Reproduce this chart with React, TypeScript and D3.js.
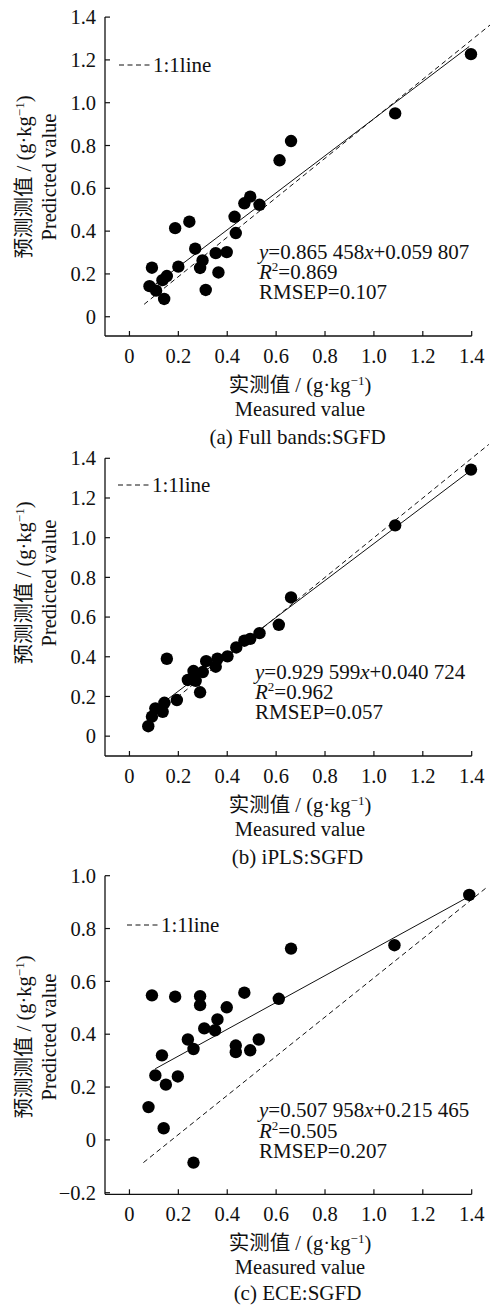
import React from 'react';
import * as d3 from 'd3';

const FONT = '"Liberation Serif", "Times New Roman", "Noto Sans CJK SC", serif';

// measured vs predicted
const fullMeasured = [0.082, 0.092, 0.109, 0.135, 0.142, 0.153, 0.187, 0.2, 0.245, 0.269, 0.289, 0.299, 0.312, 0.353, 0.364, 0.398, 0.43, 0.435, 0.47, 0.494, 0.532, 0.614, 0.661, 1.087, 1.397];
const fullPredicted = [0.143, 0.229, 0.122, 0.171, 0.083, 0.19, 0.414, 0.234, 0.444, 0.318, 0.228, 0.263, 0.125, 0.297, 0.207, 0.302, 0.467, 0.391, 0.53, 0.561, 0.523, 0.731, 0.821, 0.95, 1.227];

const iplsMeasured = [0.077, 0.092, 0.106, 0.136, 0.143, 0.153, 0.194, 0.239, 0.262, 0.271, 0.289, 0.3, 0.314, 0.353, 0.36, 0.401, 0.437, 0.47, 0.494, 0.532, 0.611, 0.661, 1.087, 1.397];
const iplsPredicted = [0.05, 0.098, 0.14, 0.123, 0.168, 0.39, 0.182, 0.283, 0.328, 0.279, 0.221, 0.323, 0.378, 0.35, 0.39, 0.402, 0.447, 0.481, 0.49, 0.519, 0.561, 0.699, 1.062, 1.343];

const eceMeasured = [0.078, 0.092, 0.106, 0.133, 0.14, 0.149, 0.187, 0.198, 0.239, 0.262, 0.262, 0.289, 0.289, 0.306, 0.35, 0.36, 0.398, 0.435, 0.435, 0.47, 0.494, 0.529, 0.611, 0.661, 1.084, 1.39];
const ecePredicted = [0.124, 0.547, 0.244, 0.32, 0.044, 0.209, 0.542, 0.24, 0.38, 0.344, -0.086, 0.544, 0.51, 0.422, 0.415, 0.456, 0.502, 0.357, 0.332, 0.557, 0.339, 0.38, 0.534, 0.724, 0.737, 0.927];

const xTicks = [0, 0.2, 0.4, 0.6, 0.8, 1.0, 1.2, 1.4];
const yTicksAB = [0, 0.2, 0.4, 0.6, 0.8, 1.0, 1.2, 1.4];
const yTicksC = [-0.2, 0, 0.2, 0.4, 0.6, 0.8, 1.0];

const slopes = [0.865458, 0.929599, 0.507958];
const intercepts = [0.059807, 0.040724, 0.215465];
const r2Values = [0.869, 0.962, 0.505];
const rmsepValues = [0.107, 0.057, 0.207];
const captions = ['(a) Full bands:SGFD', '(b) iPLS:SGFD', '(c) ECE:SGFD'];

// the "1:1" dashed lines as drawn in the figure (end points)
const refLines = [
  [[0.06, 0.058], [1.475, 1.363]],
  [[0.06, 0.06], [1.47, 1.47]],
  [[0.057, -0.086], [1.462, 0.956]],
];
const fitRanges = [[0.08, 1.39], [0.08, 1.39], [0.105, 1.39]];
const yDomains = [[-0.09, 1.4], [-0.1, 1.4], [-0.206, 1.0]];

// layout, px
const panels = [
  { top: 17.1, bottom: 336, labelY: 177, eqX: 259, eqY: 259, legY: 65, legX: 119, capY: 107.5 },
  { top: 458.3, bottom: 756, labelY: 583, eqX: 255, eqY: 679, legY: 485, legX: 118, capY: 107.5 },
  { top: 875.7, bottom: 1194.3, labelY: 1037, eqX: 259, eqY: 1117.3, legY: 925, legX: 127, capY: 105.5 },
];
const data = [
  { xs: fullMeasured, ys: fullPredicted, yTicks: yTicksAB },
  { xs: iplsMeasured, ys: iplsPredicted, yTicks: yTicksAB },
  { xs: eceMeasured, ys: ecePredicted, yTicks: yTicksC },
];

const x = d3.scaleLinear().domain([-0.1, 1.4]).range([105, 471.7]);
const LEFT = 105;
const RIGHT = 471.7;

const fmtTick = (d: number) => (d === 0 ? '0' : (d < 0 ? '\u2212' : '') + Math.abs(d).toFixed(1));
const fmtCoef = (v: number) => {
  const s = v.toFixed(6);
  return s.slice(0, s.length - 3) + ' ' + s.slice(s.length - 3);
};

const Unit = () => (
  <>
    (g·kg<tspan dy={-7} fontSize={13}>−1</tspan>
    <tspan dy={7}>)</tspan>
  </>
);

const Panel = ({ i }: { i: number }) => {
  const lay = panels[i];
  const d = data[i];
  const y = d3.scaleLinear().domain(yDomains[i]).range([lay.bottom, lay.top]);
  const line = d3.line<number[]>().x(p => x(p[0])).y(p => y(p[1]));
  const fit = fitRanges[i].map(v => [v, slopes[i] * v + intercepts[i]]);
  return (
    <g fontFamily={FONT} fill="#111">
      {/* axes */}
      <line x1={LEFT} x2={LEFT} y1={lay.top} y2={lay.bottom} stroke="#111" strokeWidth={1.3} />
      <line x1={LEFT} x2={RIGHT} y1={lay.bottom} y2={lay.bottom} stroke="#111" strokeWidth={1.3} />
      {d.yTicks.map(t => (
        <g key={'y' + t}>
          <line x1={LEFT} x2={LEFT + 5} y1={y(t)} y2={y(t)} stroke="#111" strokeWidth={1.2} />
          <text x={96} y={y(t)} dy="0.35em" textAnchor="end" fontSize={20.5}>{fmtTick(t)}</text>
        </g>
      ))}
      {xTicks.map(t => (
        <g key={'x' + t}>
          <line x1={x(t)} x2={x(t)} y1={lay.bottom} y2={lay.bottom - 5} stroke="#111" strokeWidth={1.2} />
          <text x={x(t)} y={lay.bottom + 27} textAnchor="middle" fontSize={20.5}>{fmtTick(t)}</text>
        </g>
      ))}

      {/* lines */}
      <path d={line(refLines[i] as number[][]) || ''} fill="none" stroke="#111" strokeWidth={1} strokeDasharray="5,3.5" />
      <path d={line(fit) || ''} fill="none" stroke="#111" strokeWidth={1} />

      {d.xs.map((v, k) => (
        <circle key={k} cx={x(v)} cy={y(d.ys[k])} r={6.2} fill="#000" />
      ))}

      {/* legend */}
      <line x1={lay.legX} x2={lay.legX + 33} y1={lay.legY} y2={lay.legY} stroke="#111" strokeWidth={1} strokeDasharray="5,3.5" />
      <text x={lay.legX + 34} y={lay.legY + 7} fontSize={21}>1:1line</text>

      {/* stats */}
      <text x={lay.eqX} y={lay.eqY} fontSize={21}>
        <tspan fontStyle="italic">y</tspan>={fmtCoef(slopes[i])}<tspan fontStyle="italic">x</tspan>+{fmtCoef(intercepts[i])}
      </text>
      <text x={lay.eqX} y={lay.eqY + 20.3} fontSize={21}>
        <tspan fontStyle="italic">R</tspan>
        <tspan dy={-8} fontSize={13}>2</tspan>
        <tspan dy={8}>={r2Values[i].toFixed(3)}</tspan>
      </text>
      <text x={lay.eqX} y={lay.eqY + 40.3} fontSize={21}>RMSEP={rmsepValues[i].toFixed(3)}</text>

      {/* axis titles */}
      <text x={300} y={lay.bottom + 56} textAnchor="middle" fontSize={20.5}>实测值 / <Unit /></text>
      <text x={300} y={lay.bottom + 79.5} textAnchor="middle" fontSize={20.5}>Measured value</text>
      <text x={297.5} y={lay.bottom + lay.capY} textAnchor="middle" fontSize={21}>{captions[i]}</text>
      <text transform={`translate(31,${lay.labelY}) rotate(-90)`} textAnchor="middle" fontSize={20.5}>
        预测测值 / <Unit />
      </text>
      <text transform={`translate(56,${lay.labelY}) rotate(-90)`} textAnchor="middle" fontSize={20.5}>
        Predicted value
      </text>
    </g>
  );
};

export default function App() {
  return (
    <div style={{ position: 'absolute', left: 0, top: 0, background: '#fff' }}>
      <svg width={490} height={1305} style={{ display: 'block' }}>
        <rect width={490} height={1305} fill="#fff" />
        {[0, 1, 2].map(i => <Panel key={i} i={i} />)}
      </svg>
    </div>
  );
}
